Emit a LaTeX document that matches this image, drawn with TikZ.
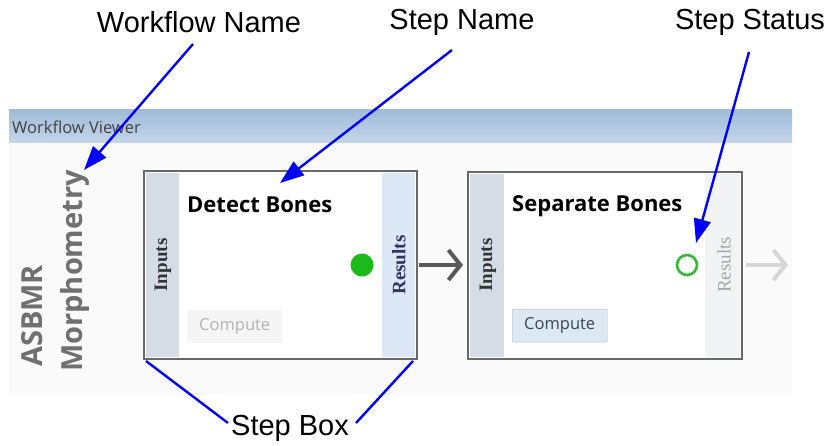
\documentclass[tikz,border=0pt]{standalone}
\usepackage{fontspec}
\setmainfont{Liberation Sans}
\newfontfamily\uifont{Open Sans}
\newfontfamily\serifui{Liberation Serif}
\usetikzlibrary{arrows.meta}
\definecolor{annblue}{RGB}{0,0,255}
\definecolor{barblue}{RGB}{160,188,216}
\definecolor{barblue2}{RGB}{196,214,234}
\definecolor{boxgray}{RGB}{105,105,105}
\definecolor{inputstrip}{RGB}{214,220,230}
\definecolor{resultstrip}{RGB}{220,232,246}
\definecolor{resultstrip2}{RGB}{242,243,245}
\definecolor{wfgray}{RGB}{112,112,112}
\definecolor{panelbg}{RGB}{250,250,250}
\tikzset{
  x=1pt,y=-1pt,
  annot/.style={font=\fontsize{29}{31}\selectfont, inner sep=0pt},
  callout/.style={draw=annblue, line width=2.4pt, -{Triangle[length=24pt,width=17pt]}},
  calloutline/.style={draw=annblue, line width=2.4pt},
  stepbox/.style={draw=boxgray, line width=2.6pt, fill=white},
  stripin/.style={fill=inputstrip, draw=none},
  stripres/.style={fill=resultstrip, draw=none},
  stripres2/.style={fill=resultstrip2, draw=none},
  stepname/.style={font=\uifont\bfseries\fontsize{22}{24}\selectfont, anchor=west, inner sep=0pt},
  striptext/.style={font=\serifui\bfseries\fontsize{19}{21}\selectfont, rotate=90, inner sep=0pt},
  wfname/.style={font=\uifont\bfseries\fontsize{29}{31}\selectfont, text=wfgray, rotate=90, inner sep=0pt},
  btn/.style={font=\uifont\fontsize{16.5}{18}\selectfont, minimum width=95pt, minimum height=33pt, inner sep=0pt, rounded corners=2pt},
  flowarrow/.style={line width=4pt, -{Straight Barb[length=12pt,width=30pt,line width=4pt]}},
}
\begin{document}
\begin{tikzpicture}
\useasboundingbox (0,0) rectangle (831,446);
\fill[white] (0,0) rectangle (831,446);
% screenshot panel
\fill[panelbg] (9,143) rectangle (792,395);
\shade[top color=barblue, bottom color=barblue2] (9,110) rectangle (792,143);
\node[anchor=west, font=\uifont\fontsize{16.5}{18}\selectfont, text=black!75, inner sep=0pt] (wv) at (12,127) {Workflow Viewer};

% workflow name
\node[wfname] (asbmr) at (32,316) {ASBMR};
\node[wfname] (morph) at (75,271) {Morphometry};

% step box 1
\draw[stepbox] (144,171) rectangle (417,359);
\fill[stripin] (146,173) rectangle (179,357);
\fill[stripres] (382,173) rectangle (415,357);
\node[striptext, text=black!80] (in1) at (163,265) {Inputs};
\node[striptext, text=black!70!blue!60!gray] (res1) at (399,265) {Results};
\node[stepname] (n1) at (187,205) {Detect Bones};
\node[circle, fill=green!70!black!90, minimum size=23pt, inner sep=0pt] (st1) at (362,265) {};
\node[btn, fill=gray!8, text=gray!60, anchor=north west] (c1) at (187,310) {Compute};
\coordinate (b1sw) at (146,361);
\coordinate (b1se) at (413,361);
\coordinate (b1e) at (419,265);

% step box 2
\draw[stepbox] (468,172) rectangle (742,359);
\fill[stripin] (470,174) rectangle (504,357);
\fill[stripres2] (705,174) rectangle (740,357);
\node[striptext, text=black!80] (in2) at (488,265) {Inputs};
\node[striptext, text=gray!70, font=\serifui\fontsize{19}{21}\selectfont] (res2) at (724,265) {Results};
\node[stepname] (n2) at (512,206) {Separate Bones};
\node[circle, draw=green!65!black!80, line width=2.6pt, minimum size=20pt, inner sep=0pt] (st2) at (687,265) {};
\node[btn, fill={rgb,255:red,221;green,232;blue,243}, draw={rgb,255:red,168;green,184;blue,204}, text={rgb,255:red,55;green,70;blue,90}, anchor=north west] (c2) at (512,309) {Compute};
\coordinate (b2w) at (463,265);
\coordinate (b2e) at (746,265);
\coordinate (b3w) at (788,265);

% flow arrows
\draw[flowarrow, draw=black!65] (b1e) -- (b2w);
\draw[flowarrow, draw=black!16] (b2e) -- (b3w);

% annotations
\node[annot] (lwf) at (199,22) {Workflow Name};
\node[annot] (lsn) at (462,22) {Step Name};
\node[annot] (lss) at (750,22) {Step Status};
\node[annot] (lsb) at (290,428) {Step Box};

\coordinate (wfs) at (193,44);
\coordinate (wft) at (84,170);
\coordinate (sns) at (452,50);
\coordinate (snt) at (280,183);
\coordinate (sss) at (749,52);
\coordinate (sst) at (696,243);
\coordinate (sbl) at (228,423);
\coordinate (sbr) at (356,423);

\draw[callout] (wfs) -- (wft);
\draw[callout] (sns) -- (snt);
\draw[callout] (sss) -- (sst);
\draw[calloutline] (b1sw) -- (sbl);
\draw[calloutline] (b1se) -- (sbr);
\end{tikzpicture}
\end{document}
